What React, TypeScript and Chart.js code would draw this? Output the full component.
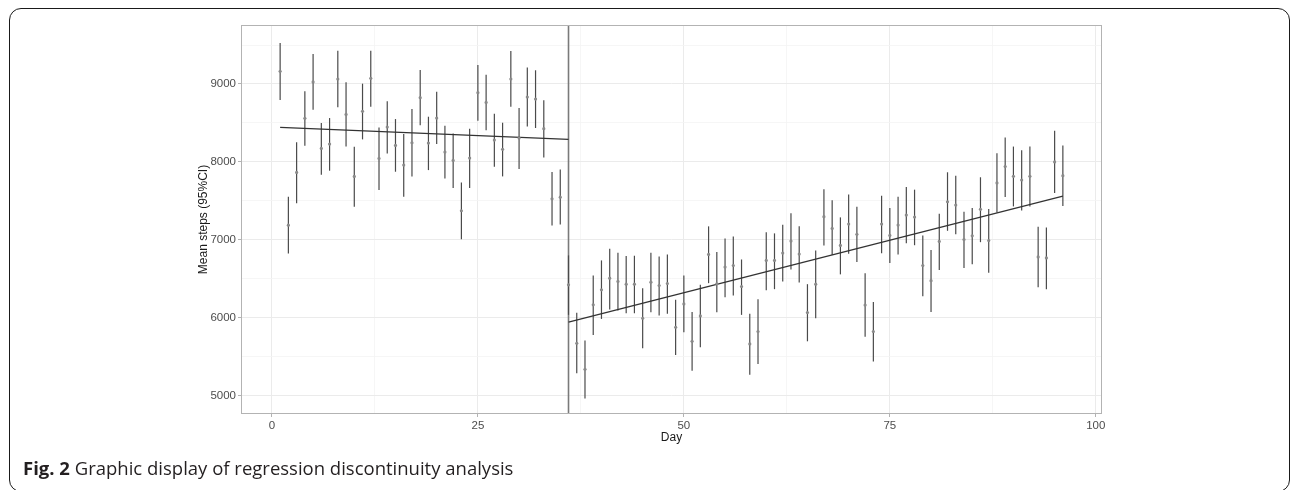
import React, { useEffect, useRef } from "react";
import { Chart, registerables } from "chart.js";

Chart.register(...registerables);

const days = [
  1, 2, 3, 4, 5, 6, 7, 8, 9, 10, 11, 12, 13, 14, 15, 16, 17, 18, 19, 20,
  21, 22, 23, 24, 25, 26, 27, 28, 29, 30, 31, 32, 33, 34, 35, 36, 37, 38, 39, 40,
  41, 42, 43, 44, 45, 46, 47, 48, 49, 50, 51, 52, 53, 54, 55, 56, 57, 58, 59, 60,
  61, 62, 63, 64, 65, 66, 67, 68, 69, 70, 71, 72, 73, 74, 75, 76, 77, 78, 79, 80,
  81, 82, 83, 84, 85, 86, 87, 88, 89, 90, 91, 92, 93, 94, 95, 96,
];

const meanSteps = [
  9163, 7188, 7865, 8559, 9026, 8173, 8229, 9064, 8610, 7814,
  8649, 9073, 8045, 8448, 8212, 7959, 8246, 8824, 8242, 8563,
  8126, 8019, 7373, 8049, 8889, 8764, 8280, 8161, 9064, 8306,
  8833, 8807, 8426, 7527, 7548, 6423, 5673, 5338, 6166, 6358,
  6508, 6466, 6431, 6431, 5994, 6457, 6414, 6440, 5878, 6178,
  5698, 6024, 6813, 6436, 6650, 6671, 6401, 5664, 5823, 6736,
  6736, 6830, 6984, 6817, 6067, 6431, 7297, 7147, 6928, 7202,
  7071, 6163, 5824, 7202, 7056, 7189, 7318, 7292, 6670, 6476,
  6979, 7489, 7446, 7004, 7052, 7391, 6991, 7730, 7940, 7815,
  7768, 7815, 6781, 6768, 8000, 7824,
];

const upperCI = [
  9527, 7552, 8251, 8906, 9385, 8499, 8563, 9428, 9021, 8195,
  9004, 9428, 8443, 8777, 8550, 8358, 8679, 9180, 8580, 8902,
  8465, 8366, 7737, 8426, 9244, 9120, 8619, 8503, 9424, 8692,
  9210, 9176, 8790, 7869, 7904, 6800, 6063, 5707, 6543, 6736,
  6886, 6834, 6791, 6796, 6380, 6834, 6787, 6813, 6230, 6543,
  6075, 6423, 7173, 6843, 7018, 7044, 6748, 6050, 6238, 7096,
  7083, 7194, 7340, 7173, 6431, 6864, 7649, 7507, 7288, 7581,
  7425, 6571, 6202, 7567, 7408, 7554, 7678, 7644, 7056, 6871,
  7335, 7867, 7824, 7361, 7408, 7803, 7395, 8112, 8313, 8197,
  8150, 8197, 7167, 7159, 8399, 8210,
];

const lowerCI = [
  8794, 6824, 7471, 8208, 8670, 7835, 7887, 8700, 8199, 7424,
  8289, 8709, 7638, 8109, 7874, 7552, 7814, 8469, 7895, 8229,
  7788, 7664, 7009, 7664, 8529, 8405, 7938, 7814, 8709, 7908,
  8456, 8435, 8058, 7184, 7197, 6037, 5287, 4965, 5780, 5985,
  6105, 6093, 6058, 6058, 5608, 6071, 6028, 6050, 5523, 5814,
  5321, 5621, 6444, 6071, 6264, 6285, 6037, 5270, 5407, 6354,
  6367, 6465, 6620, 6453, 5698, 5994, 6928, 6804, 6557, 6820,
  6715, 5755, 5438, 6828, 6704, 6811, 6957, 6931, 6275, 6073,
  6614, 7116, 7073, 6639, 6687, 6970, 6579, 7352, 7549, 7429,
  7378, 7429, 6391, 6365, 7601, 7433,
];

const cutoffDay = 36;
const preFitDays = [1, 36];
const preFitSteps = [8443, 8289];
const postFitDays = [36, 96];
const postFitSteps = [5943, 7562];

const xTickValues = [0, 12.5, 25, 37.5, 50, 62.5, 75, 87.5, 100];
const yTickValues = [5000, 5500, 6000, 6500, 7000, 7500, 8000, 8500, 9000, 9500];
const xRange = [-3.75, 100.75];
const yRange = [4765, 9757];

const isMajorX = (v: number) => v % 25 === 0;
const isMajorY = (v: number) => v % 1000 === 0;

const errorBarPlugin = {
  id: "errorBars",
  beforeDatasetsDraw(chart: any) {
    const { ctx, chartArea, scales } = chart;
    const xs = scales.x;
    const ys = scales.y;
    ctx.save();
    ctx.beginPath();
    ctx.rect(chartArea.left, chartArea.top, chartArea.width, chartArea.height);
    ctx.clip();
    const cx = xs.getPixelForValue(cutoffDay);
    ctx.strokeStyle = "#7a7a7a";
    ctx.lineWidth = 1.6;
    ctx.beginPath();
    ctx.moveTo(cx, chartArea.top);
    ctx.lineTo(cx, chartArea.bottom);
    ctx.stroke();
    ctx.strokeStyle = "#4a4a4a";
    ctx.lineWidth = 1.2;
    for (let i = 0; i < days.length; i++) {
      const x = xs.getPixelForValue(days[i]);
      ctx.beginPath();
      ctx.moveTo(x, ys.getPixelForValue(upperCI[i]));
      ctx.lineTo(x, ys.getPixelForValue(lowerCI[i]));
      ctx.stroke();
    }
    ctx.restore();
  },
  afterDraw(chart: any) {
    const { ctx, chartArea } = chart;
    ctx.save();
    ctx.strokeStyle = "#b3b3b3";
    ctx.lineWidth = 1;
    ctx.strokeRect(
      Math.round(chartArea.left) + 0.5,
      Math.round(chartArea.top) + 0.5,
      Math.round(chartArea.width) - 1,
      Math.round(chartArea.height) - 1
    );
    ctx.restore();
  },
};

export default function App() {
  const canvasRef = useRef<HTMLCanvasElement | null>(null);

  useEffect(() => {
    document.body.style.margin = "0";
    if (!canvasRef.current) return;
    const tickFont = { family: "'Liberation Sans', Arial, sans-serif", size: 11.5 };
    const titleFont = { family: "'Liberation Sans', Arial, sans-serif", size: 12 };
    const chart = new Chart(canvasRef.current, {
      type: "scatter",
      data: {
        datasets: [
          {
            label: "Mean steps",
            data: days.map((d, i) => ({ x: d, y: meanSteps[i] })),
            pointRadius: 1.6,
            pointBackgroundColor: "#8a8a8a",
            pointBorderWidth: 0,
            showLine: false,
          },
          {
            label: "Pre fit",
            type: "line",
            data: preFitDays.map((d, i) => ({ x: d, y: preFitSteps[i] })),
            borderColor: "#333333",
            borderWidth: 1.3,
            pointRadius: 0,
            fill: false,
          },
          {
            label: "Post fit",
            type: "line",
            data: postFitDays.map((d, i) => ({ x: d, y: postFitSteps[i] })),
            borderColor: "#333333",
            borderWidth: 1.3,
            pointRadius: 0,
            fill: false,
          },
        ],
      },
      options: {
        animation: false,
        responsive: false,
        devicePixelRatio: 1,
        layout: { padding: { left: 180, right: 190, top: 17, bottom: 0 } },
        plugins: {
          legend: { display: false },
          tooltip: { enabled: false },
        },
        scales: {
          x: {
            type: "linear",
            min: xRange[0],
            max: xRange[1],
            afterBuildTicks: (scale: any) => {
              scale.ticks = xTickValues.map((v) => ({ value: v }));
            },
            afterFit: (scale: any) => {
              scale.height = 34;
            },
            border: { display: false },
            grid: {
              color: (c: any) => (isMajorX(c.tick.value) ? "#ebebeb" : "#f4f4f4"),
              lineWidth: (c: any) => (isMajorX(c.tick.value) ? 1 : 0.8),
              tickColor: (c: any) => (isMajorX(c.tick.value) ? "#b3b3b3" : "rgba(0,0,0,0)"),
              tickLength: 3,
              drawTicks: true,
            },
            ticks: {
              autoSkip: false,
              maxRotation: 0,
              padding: 2,
              color: "#4d4d4d",
              font: tickFont,
              callback: (v: any) => (isMajorX(Number(v)) ? String(v) : ""),
            },
            title: {
              display: true,
              text: "Day",
              color: "#1a1a1a",
              font: titleFont,
              padding: { top: 0, bottom: 3 },
            },
          },
          y: {
            type: "linear",
            min: yRange[0],
            max: yRange[1],
            afterBuildTicks: (scale: any) => {
              scale.ticks = yTickValues.map((v) => ({ value: v }));
            },
            afterFit: (scale: any) => {
              scale.width = 53;
            },
            border: { display: false },
            grid: {
              color: (c: any) => (isMajorY(c.tick.value) ? "#ebebeb" : "#f4f4f4"),
              lineWidth: (c: any) => (isMajorY(c.tick.value) ? 1 : 0.8),
              tickColor: (c: any) => (isMajorY(c.tick.value) ? "#b3b3b3" : "rgba(0,0,0,0)"),
              tickLength: 3,
              drawTicks: true,
            },
            ticks: {
              autoSkip: false,
              padding: 2,
              color: "#4d4d4d",
              font: tickFont,
              callback: (v: any) => (isMajorY(Number(v)) ? String(v) : ""),
            },
            title: {
              display: true,
              text: "Mean steps (95%CI)",
              color: "#1a1a1a",
              font: titleFont,
              padding: { top: 8, bottom: 0 },
            },
          },
        },
      },
      plugins: [errorBarPlugin],
    } as any);
    return () => chart.destroy();
  }, []);

  return (
    <div style={{ position: "relative", width: 1292, height: 490, overflow: "hidden", background: "#ffffff" }}>
      <style>{"body{margin:0;}"}</style>
      <canvas
        ref={canvasRef}
        width={1284}
        height={440}
        style={{ position: "absolute", left: 8, top: 8, width: 1284, height: 440 }}
      />
      <div
        style={{
          position: "absolute",
          left: 9,
          top: 8,
          width: 1281,
          height: 484,
          boxSizing: "border-box",
          border: "1.5px solid #1a1a1a",
          borderRadius: 12,
          pointerEvents: "none",
        }}
      />
      <div
        style={{
          position: "absolute",
          left: 23,
          top: 456,
          fontFamily: "'Open Sans', sans-serif",
          fontSize: 18.5,
          color: "#231f20",
          whiteSpace: "nowrap",
          lineHeight: "24px",
        }}
      >
        <span style={{ fontWeight: 700 }}>Fig. 2</span> Graphic display of regression discontinuity analysis
      </div>
    </div>
  );
}
